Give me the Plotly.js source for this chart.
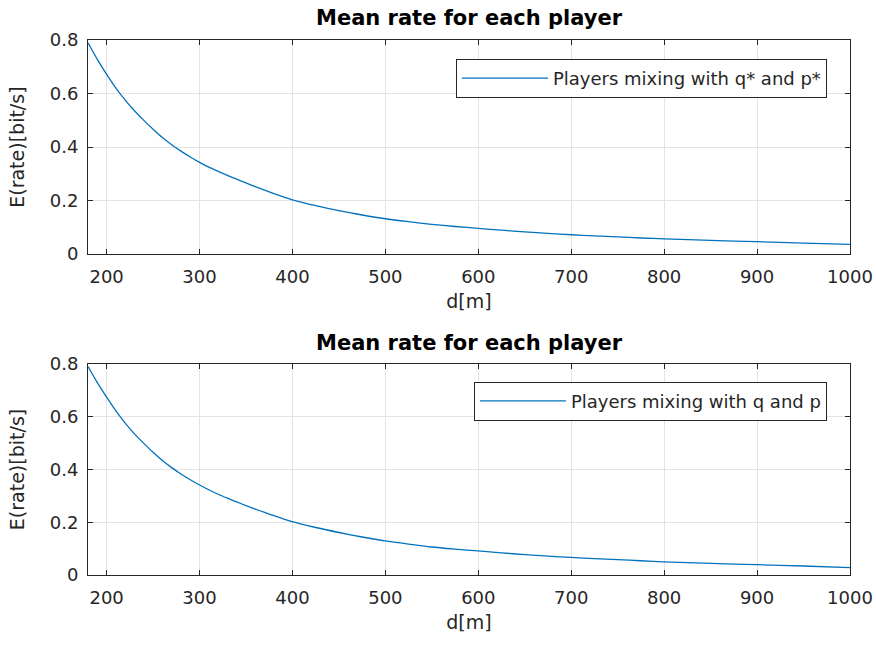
<!DOCTYPE html>
<html>
<head>
<meta charset="utf-8">
<script src="https://cdn.plot.ly/plotly-3.0.1.min.js"></script>
<style>html,body{margin:0;padding:0;background:#fff;}#chart{width:876px;height:648px;}</style>
</head>
<body>
<div id="chart"></div>
<script>
// distance d [m]
const distance = [180, 190, 200, 210, 220, 230, 240, 250, 260, 270, 280, 290, 300, 310, 320, 330, 340, 350, 360, 370, 380, 390, 400,
  425, 450, 475, 500, 525, 550, 575, 600, 625, 650, 675, 700, 725, 750, 775, 800, 850, 900, 950, 1000];
// mean rate, players mixing with q* and p*
const rateStar = [0.790, 0.728, 0.672, 0.621, 0.576, 0.536, 0.500, 0.467, 0.436, 0.409, 0.385, 0.363, 0.343, 0.325, 0.309, 0.294, 0.280, 0.266, 0.252, 0.239, 0.226, 0.214, 0.203,
  0.181, 0.162, 0.146, 0.132, 0.121, 0.111, 0.103, 0.096, 0.089, 0.083, 0.077, 0.072, 0.068, 0.064, 0.060, 0.057, 0.051, 0.046, 0.041, 0.036];
// mean rate, players mixing with q and p
const rateQP = [0.790, 0.729, 0.674, 0.622, 0.576, 0.535, 0.499, 0.465, 0.434, 0.407, 0.383, 0.361, 0.341, 0.323, 0.306, 0.291, 0.277, 0.263, 0.250, 0.237, 0.225, 0.213, 0.202,
  0.180, 0.161, 0.144, 0.129, 0.117, 0.106, 0.098, 0.091, 0.084, 0.077, 0.0715, 0.0665, 0.062, 0.058, 0.054, 0.050, 0.044, 0.039, 0.034, 0.028];
const seriesNames = ["Players mixing with q* and p*", "Players mixing with q and p"];
const plotTitle = "Mean rate for each player";
const xTicks = [200, 300, 400, 500, 600, 700, 800, 900, 1000];
const yTicks = [0, 0.2, 0.4, 0.6, 0.8];
const yTickText = ["0", "0.2", "0.4", "0.6", "0.8"];

const FONT = "DejaVu Sans, Liberation Sans, Arial, sans-serif";
const INK = "#262626";
const LINE = "#0072BD";

function xax(anchor) {
  return {
    domain: [0.1005, 0.9703], anchor: anchor, range: [180, 1000],
    tickvals: xTicks, ticktext: xTicks.map(String),
    ticks: "inside", ticklen: 5, tickcolor: INK, tickwidth: 1,
    showline: true, linecolor: INK, linewidth: 1, mirror: "ticks",
    showgrid: true, gridcolor: "#e3e3e3", gridwidth: 1, zeroline: false,
    tickfont: {family: FONT, size: 18, color: INK}, ticklabelstandoff: 6,
    title: {text: "d[m]", font: {family: FONT, size: 19, color: INK}, standoff: 9},
    automargin: false
  };
}
function yax(anchor, dom) {
  return {
    domain: dom, anchor: anchor, range: [0, 0.8],
    tickvals: yTicks, ticktext: yTickText,
    ticks: "inside", ticklen: 5, tickcolor: INK, tickwidth: 1,
    showline: true, linecolor: INK, linewidth: 1, mirror: "ticks",
    showgrid: true, gridcolor: "#e3e3e3", gridwidth: 1, zeroline: false,
    tickfont: {family: FONT, size: 18, color: INK}, ticklabelstandoff: 5,
    title: {text: "E(rate)[bit/s]", font: {family: FONT, size: 19, color: INK}, standoff: 20},
    automargin: false
  };
}

const traces = [
  {x: distance, y: rateStar, name: seriesNames[0], type: "scatter", mode: "lines",
   line: {color: LINE, width: 1.3, shape: "spline", smoothing: 0.6}, xaxis: "x", yaxis: "y", legend: "legend"},
  {x: distance, y: rateQP, name: seriesNames[1], type: "scatter", mode: "lines",
   line: {color: LINE, width: 1.3, shape: "spline", smoothing: 0.6}, xaxis: "x2", yaxis: "y2", legend: "legend2"}
];

const legendBase = {
  xanchor: "right", yanchor: "top", bgcolor: "#ffffff",
  bordercolor: INK, borderwidth: 1, itemwidth: 86,
  font: {family: FONT, size: 18, color: INK}
};

const layout = {
  width: 876, height: 648,
  margin: {l: 0, r: 0, t: 0, b: 0},
  paper_bgcolor: "#ffffff", plot_bgcolor: "#ffffff",
  showlegend: true,
  xaxis: xax("y"), yaxis: yax("x", [0.608, 0.938]),
  xaxis2: xax("y2"), yaxis2: yax("x2", [0.1127, 0.4383]),
  legend: Object.assign({x: 0.944, y: 0.909}, legendBase),
  legend2: Object.assign({x: 0.944, y: 0.411}, legendBase),
  annotations: [
    {text: "<b>" + plotTitle + "</b>", xref: "paper", yref: "paper", x: 0.5355, y: 0.972,
     xanchor: "center", yanchor: "middle", showarrow: false, font: {family: FONT, size: 21, color: "#000"}},
    {text: "<b>" + plotTitle + "</b>", xref: "paper", yref: "paper", x: 0.5355, y: 0.471,
     xanchor: "center", yanchor: "middle", showarrow: false, font: {family: FONT, size: 21, color: "#000"}}
  ]
};

Plotly.newPlot("chart", traces, layout, {displayModeBar: false, staticPlot: true});
</script>
</body>
</html>
